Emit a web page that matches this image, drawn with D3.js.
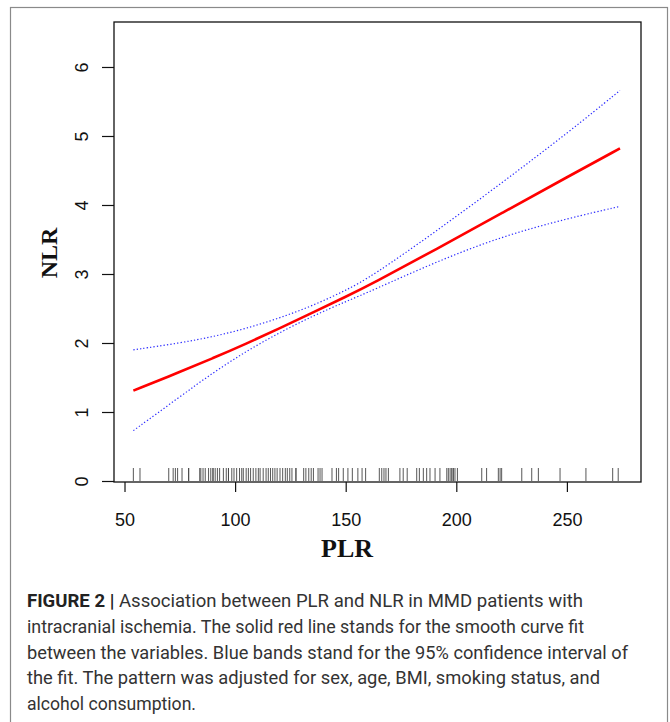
<!DOCTYPE html>
<html>
<head>
<meta charset="utf-8">
<script src="https://cdn.jsdelivr.net/npm/d3@7"></script>
<style>
  body { margin: 0; background: #fff; }
  svg { display: block; }
</style>
</head>
<body>
<svg width="670" height="722"></svg>
<script>
// smooth curve fit of NLR on PLR, with 95% CI
const plrGrid = [54, 75, 90, 105, 120, 135, 150, 162, 191, 221, 251, 274];
const nlrFit = [1.31, 1.58, 1.78, 1.99, 2.21, 2.44, 2.67, 2.86, 3.36, 3.89, 4.42, 4.82];
const nlrUpper = [1.90, 2.00, 2.09, 2.21, 2.36, 2.54, 2.76, 2.97, 3.62, 4.33, 5.06, 5.66];
const nlrLower = [0.73, 1.22, 1.57, 1.88, 2.15, 2.39, 2.60, 2.76, 3.18, 3.55, 3.81, 3.98];

// observed PLR values drawn as a rug
const plrRug = [54, 57, 70, 72, 73, 74, 76, 79, 79, 84, 84.5, 85.5, 86.5, 88, 89, 90, 90,
  91, 92, 93, 94.7, 96, 97, 97, 98.5, 99.5, 100.7, 102, 103, 103.7, 105, 106, 107, 108.2,
  109.4, 110.5, 111.3, 112.7, 114, 115, 116, 117, 118, 119, 120.3, 121.5, 122.7, 123.6,
  124.7, 125.7, 127.5, 127.5, 131, 132, 133.3, 134.4, 135.4, 137.5, 138.4, 139.3, 143.8,
  145.8, 146.8, 148.9, 151, 153, 155.5, 157.4, 159, 165.2, 166.3, 167.3, 168.2, 169.3,
  174.5, 176, 177.8, 182.1, 183.3, 185.1, 186.6, 188.1, 190.4, 192.6, 195.7, 196.4, 197.2,
  197.9, 198.6, 198.6, 199.4, 200.5, 211.5, 213.7, 219, 219.8, 220.5, 229.6, 234.1, 237.1,
  246.9, 258.6, 270.7, 273.2];

const xTicks = [50, 100, 150, 200, 250];
const yTicks = [0, 1, 2, 3, 4, 5, 6];

const captionLines = [
  "intracranial ischemia. The solid red line stands for the smooth curve fit",
  "between the variables. Blue bands stand for the 95% confidence interval of",
  "the fit. The pattern was adjusted for sex, age, BMI, smoking status, and",
  "alcohol consumption."
];
const captionWidths = [557, 601, 573, 169];

const svg = d3.select("svg");

// outer figure frame
svg.append("rect")
  .attr("x", 10.5).attr("y", 7.5)
  .attr("width", 657).attr("height", 730)
  .attr("fill", "none")
  .attr("stroke", "#8a8a8a")
  .attr("stroke-width", 1.2);

const x = d3.scaleLinear().domain([45.25, 283.5]).range([114, 641]);
const y = d3.scaleLinear().domain([0, 6.652]).range([481, 22]);

// Rug
svg.append("g")
  .selectAll("line.rug")
  .data(plrRug)
  .enter()
  .append("line")
  .attr("x1", function (d) { return x(d); })
  .attr("x2", function (d) { return x(d); })
  .attr("y1", 468)
  .attr("y2", 481)
  .attr("stroke", "#444")
  .attr("stroke-width", 0.9);

// Confidence bands
const pts = function (vals) {
  return plrGrid.map(function (p, i) { return [p, vals[i]]; });
};
const line = d3.line()
  .x(function (d) { return x(d[0]); })
  .y(function (d) { return y(d[1]); })
  .curve(d3.curveBasis);

[nlrUpper, nlrLower].forEach(function (band) {
  svg.append("path")
    .datum(pts(band))
    .attr("d", line)
    .attr("fill", "none")
    .attr("stroke", "#2b2bff")
    .attr("stroke-width", 1.2)
    .attr("stroke-dasharray", "1.3,2.1");
});

// Fit
svg.append("path")
  .datum(pts(nlrFit))
  .attr("d", line)
  .attr("fill", "none")
  .attr("stroke", "#ff0000")
  .attr("stroke-width", 2.6);

// plot box
svg.append("rect")
  .attr("x", 114).attr("y", 22)
  .attr("width", 527).attr("height", 460)
  .attr("fill", "none")
  .attr("stroke", "#111")
  .attr("stroke-width", 1.3);

// Axes
const xAxis = d3.axisBottom(x).tickValues(xTicks).tickSize(10);
svg.append("g")
  .attr("transform", "translate(0,482)")
  .call(xAxis)
  .call(function (g) {
    g.select(".domain").remove();
    g.selectAll("line").attr("stroke", "#111").attr("stroke-width", 1.2);
    g.selectAll("text")
      .attr("font-family", "'Liberation Sans', Arial, sans-serif")
      .attr("font-size", 18)
      .attr("fill", "#111")
      .attr("dy", 0)
      .attr("y", 44);
  });

const yAxis = d3.axisLeft(y).tickValues(yTicks).tickSize(12).tickFormat(d3.format("d"));
svg.append("g")
  .attr("transform", "translate(114,0)")
  .call(yAxis)
  .call(function (g) {
    g.select(".domain").remove();
    g.selectAll("line").attr("stroke", "#111").attr("stroke-width", 1.2);
    g.selectAll("text")
      .attr("font-family", "'Liberation Sans', Arial, sans-serif")
      .attr("font-size", 18)
      .attr("fill", "#111")
      .attr("text-anchor", "middle")
      .attr("x", 0).attr("dy", 0)
      .attr("transform", "translate(-26,0) rotate(-90)");
  });

// axis titles
svg.append("text")
  .attr("x", 347).attr("y", 557)
  .attr("text-anchor", "middle")
  .attr("font-family", "'Liberation Serif', 'Times New Roman', serif")
  .attr("font-weight", "bold")
  .attr("font-size", 26)
  .attr("fill", "#111")
  .text("PLR");

svg.append("text")
  .attr("transform", "translate(57,253) rotate(-90)")
  .attr("text-anchor", "middle")
  .attr("font-family", "'Liberation Serif', 'Times New Roman', serif")
  .attr("font-weight", "bold")
  .attr("font-size", 24)
  .attr("fill", "#111")
  .text("NLR");

// caption
const capFont = "'Liberation Sans Narrow', 'Roboto', 'Liberation Sans', sans-serif";
const first = svg.append("text")
  .attr("x", 27).attr("y", 607)
  .attr("font-family", capFont)
  .attr("font-size", 19)
  .attr("fill", "#333")
  .attr("textLength", 556)
  .attr("lengthAdjust", "spacingAndGlyphs");
first.append("tspan").attr("font-weight", "bold").attr("fill", "#222").text("FIGURE 2 | ");
first.append("tspan").text("Association between PLR and NLR in MMD patients with");

svg.append("g")
  .selectAll("text.cap")
  .data(captionLines)
  .enter()
  .append("text")
  .attr("x", 27)
  .attr("y", function (d, i) { return 633 + i * 25.6; })
  .attr("font-family", capFont)
  .attr("font-size", 19)
  .attr("fill", "#333")
  .attr("textLength", function (d, i) { return captionWidths[i]; })
  .attr("lengthAdjust", "spacingAndGlyphs")
  .text(function (d) { return d; });
</script>
</body>
</html>
